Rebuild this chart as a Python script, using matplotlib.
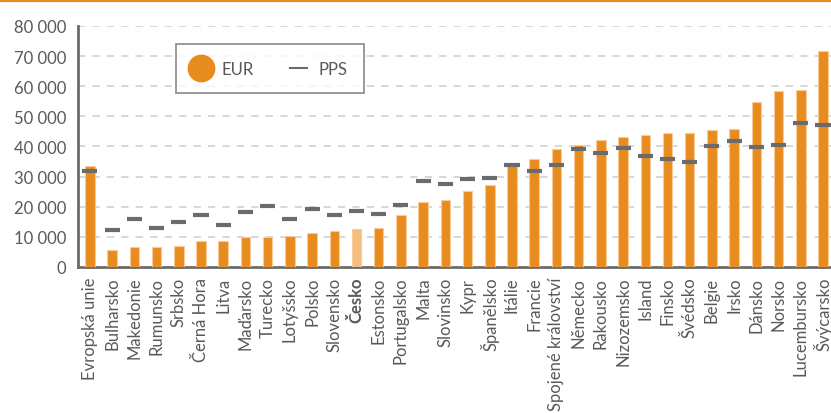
import matplotlib
matplotlib.use('Agg')
import matplotlib.pyplot as plt
from matplotlib.lines import Line2D
import numpy as np

countries = ['Evropská unie', 'Bulharsko', 'Makedonie', 'Rumunsko', 'Srbsko', 'Černá Hora',
             'Litva', 'Maďarsko', 'Turecko', 'Lotyšsko', 'Polsko', 'Slovensko', 'Česko',
             'Estonsko', 'Portugalsko', 'Malta', 'Slovinsko', 'Kypr', 'Španělsko', 'Itálie',
             'Francie', 'Spojené království', 'Německo', 'Rakousko', 'Nizozemsko', 'Island',
             'Finsko', 'Švédsko', 'Belgie', 'Irsko', 'Dánsko', 'Norsko', 'Lucembursko',
             'Švýcarsko']
eur = [33600, 5500, 6500, 6500, 6800, 8500, 8500, 10100, 10100, 10400, 11400, 11800, 12500,
       13100, 17100, 21700, 22400, 25100, 27100, 34400, 35900, 39000, 40600, 42200, 43300,
       43900, 44500, 44500, 45500, 45900, 54900, 58500, 58800, 71800]
pps = [32000, 12200, 15800, 12800, 14800, 17100, 14100, 18400, 20100, 15800, 19400, 17400,
       18700, 17700, 20700, 28400, 27700, 29100, 29700, 33700, 31700, 34000, 39000, 37700,
       39400, 36700, 35700, 34700, 40000, 41700, 39700, 40400, 47700, 47000]
highlight = 'Česko'

orange = '#E98C1F'
light_orange = '#F5BD80'
gray = '#6b6b6b'
text_col = '#595959'

plt.rcParams['font.family'] = ['Lato', 'DejaVu Sans']

fig = plt.figure(figsize=(8.31, 4.14), dpi=100)
ax = fig.add_axes([0.0935, 0.3527, 0.9065, 0.5821])

x = np.arange(len(countries))
colors = [light_orange if c == highlight else orange for c in countries]
ax.bar(x, eur, width=0.43, color=colors, edgecolor='#F8CB99', linewidth=0.8, zorder=3)
for xi, v in zip(x, pps):
    ax.plot([xi - 0.34, xi + 0.34], [v, v], color=gray, linewidth=3, solid_capstyle='butt', zorder=4)

ax.set_ylim(0, 80000)
ax.set_xlim(-0.55, 33.36)
ax.set_yticks(range(0, 80001, 10000))
ax.set_yticklabels(['0'] + ['{:,}'.format(v).replace(',', ' ') for v in range(10000, 80001, 10000)])
for v in range(10000, 80001, 10000):
    ax.axhline(v, color='#d4d4d4', linewidth=1.3, dashes=(4, 4), zorder=1)

ax.set_xticks(x)
ax.set_xticklabels(countries, rotation=90)
for lbl in ax.get_xticklabels():
    if lbl.get_text() == highlight:
        lbl.set_fontweight('bold')
ax.tick_params(axis='both', length=0, labelsize=12, colors=text_col)
ax.tick_params(axis='x', pad=7)
ax.tick_params(axis='y', pad=8)

for s in ['top', 'right']:
    ax.spines[s].set_visible(False)
ax.spines['left'].set_color(gray)
ax.spines['left'].set_linewidth(2)
ax.spines['bottom'].set_color(gray)
ax.spines['bottom'].set_linewidth(2)

handles = [Line2D([], [], marker='o', linestyle='none', markersize=19, color=orange),
           Line2D([], [], color=gray, linewidth=1.5)]
leg = ax.legend(handles, ['EUR', 'PPS'], ncol=2, loc='upper left', bbox_to_anchor=(0.12, 0.96),
                fontsize=12, frameon=True, fancybox=False, edgecolor=gray, handlelength=1.0,
                columnspacing=2.2, borderpad=1.0, handletextpad=0.7, labelcolor=text_col)
leg.get_frame().set_linewidth(1.2)

fig.add_artist(Line2D([0, 1], [0.997, 0.997], color=orange, linewidth=3, transform=fig.transFigure))

fig.savefig('out.png', dpi=100)
